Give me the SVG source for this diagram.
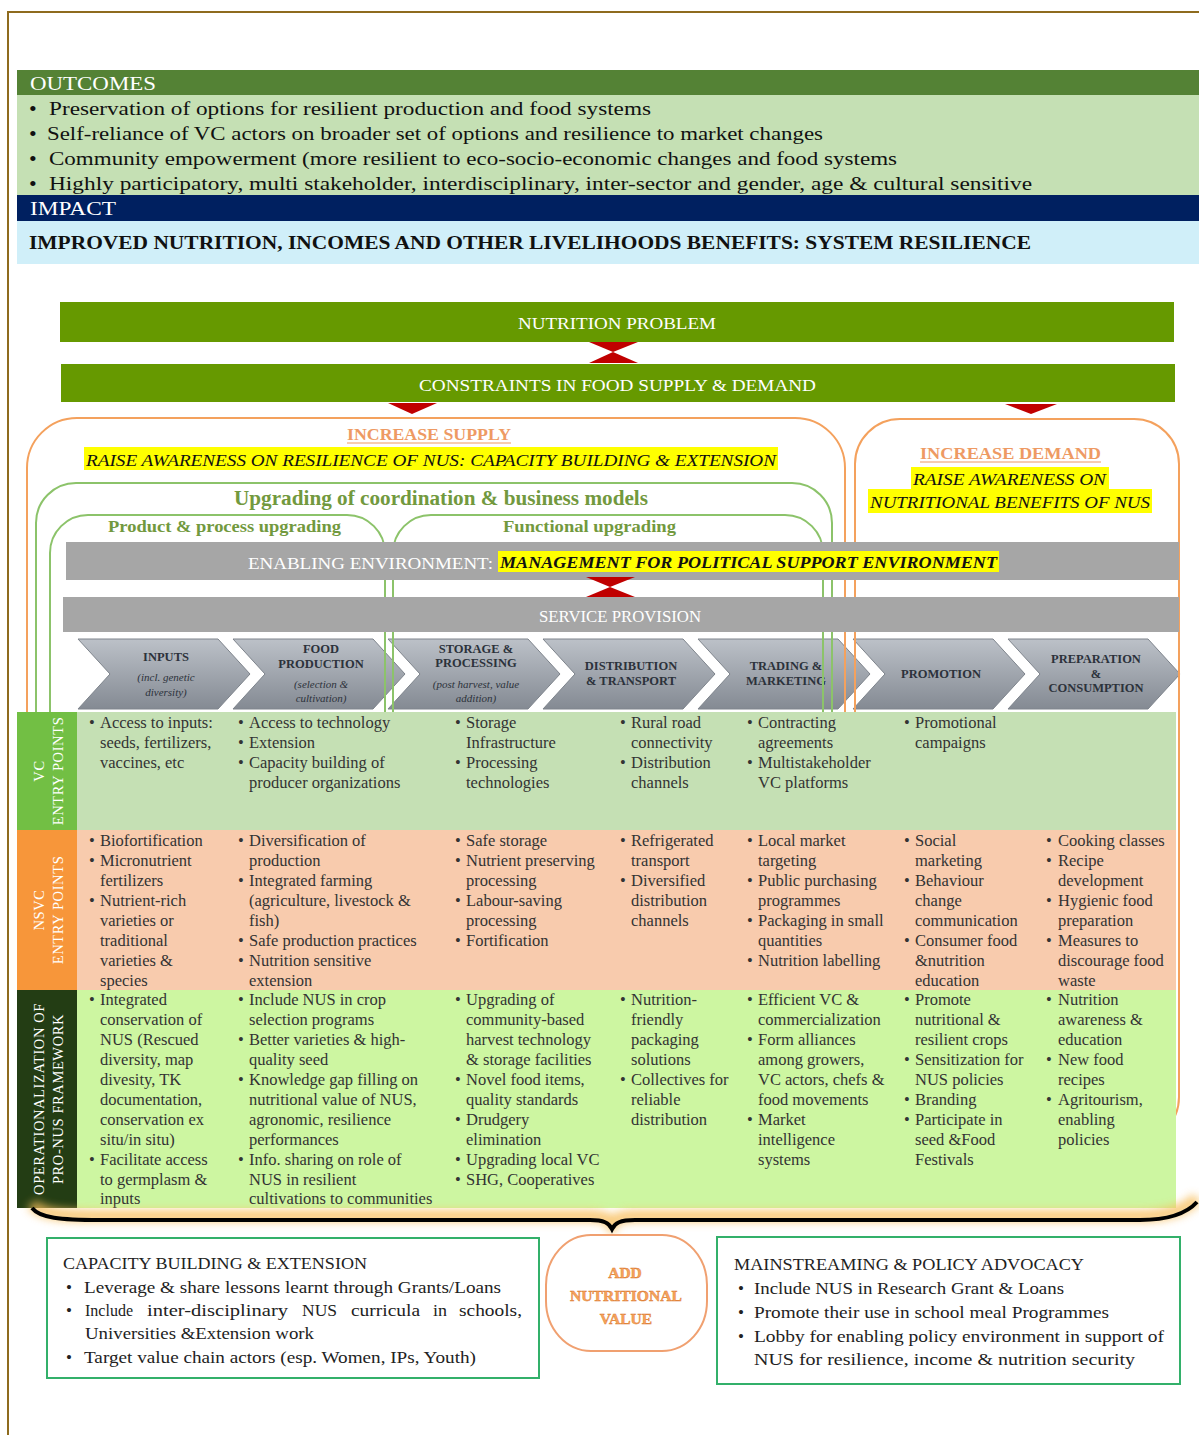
<svg xmlns="http://www.w3.org/2000/svg" width="1199" height="1435" viewBox="0 0 1199 1435">
<defs>
<style>
.sf{font-family:"Liberation Serif","Times New Roman",serif}
.w{fill:#fff}
.tb{font-family:"Liberation Serif","Times New Roman",serif;font-size:16.5px;fill:#333}
.cv{font-family:"Liberation Serif",serif;font-size:12.5px;font-weight:bold;fill:#2C323B;text-anchor:middle}
.ci{font-family:"Liberation Serif",serif;font-size:11px;font-style:italic;fill:#2C323B;text-anchor:middle}
.chev{fill:url(#cg);stroke:#7E848C;stroke-width:1}
.orng{fill:none;stroke:#F4A15D;stroke-width:2}
.grn{fill:none;stroke:#8CC36A;stroke-width:2}
.gh{font-family:"Liberation Serif",serif;font-weight:bold;fill:#72993E}
.hl{fill:#FFFF00}
.it{font-family:"Liberation Serif",serif;font-style:italic;fill:#111}
.red{fill:#C00000}
.lab{font-family:"Liberation Serif",serif;font-size:14.5px;fill:#fff;text-anchor:middle;letter-spacing:0.6px}
.bx{fill:#fff;stroke:#33B06A;stroke-width:2}
.bt{font-family:"Liberation Serif",serif;font-size:17px;fill:#222}
.bul{font-family:"Liberation Serif",serif;font-size:22px;fill:#111}
</style>
<linearGradient id="cg" x1="0" y1="0" x2="0" y2="1">
<stop offset="0" stop-color="#BCC1C8"/>
<stop offset="1" stop-color="#848A93"/>
</linearGradient>
<filter id="blur" x="-5%" y="-200%" width="110%" height="500%">
<feGaussianBlur stdDeviation="4"/>
</filter>
</defs>
<rect width="1199" height="1435" fill="#fff"/>
<!-- frame -->
<path d="M8,1435 V12 H1199" fill="none" stroke="#8E6B1E" stroke-width="2"/>

<!-- outcomes -->
<g id="outcomes">
<rect x="17" y="70" width="1182" height="25" fill="#548235"/>
<text class="sf w" x="30" y="90" font-size="19" textLength="126" lengthAdjust="spacingAndGlyphs">OUTCOMES</text>
<rect x="17" y="95" width="1182" height="100" fill="#C5E0B4"/>
<g class="sf" font-size="19" fill="#111">
<text class="bul" x="29" y="116">•</text><text x="49" y="115" textLength="602" lengthAdjust="spacingAndGlyphs">Preservation of options for resilient production and food systems</text>
<text class="bul" x="29" y="141">•</text><text x="47" y="140" textLength="776" lengthAdjust="spacingAndGlyphs">Self-reliance of VC actors on broader set of options and resilience to market changes</text>
<text class="bul" x="29" y="166">•</text><text x="49" y="165" textLength="848" lengthAdjust="spacingAndGlyphs">Community empowerment (more resilient to eco-socio-economic changes and food systems</text>
<text class="bul" x="29" y="191">•</text><text x="49" y="190" textLength="983" lengthAdjust="spacingAndGlyphs">Highly participatory, multi stakeholder, interdisciplinary, inter-sector and gender, age &amp; cultural sensitive</text>
</g>
</g>
<g id="impact">
<rect x="17" y="195" width="1182" height="26" fill="#002060"/>
<text class="sf w" x="30" y="215" font-size="19" textLength="86" lengthAdjust="spacingAndGlyphs">IMPACT</text>
<rect x="17" y="221" width="1182" height="43" fill="#D0EFF9"/>
<text class="sf" x="29" y="249" font-size="19" font-weight="bold" fill="#111" textLength="1002" lengthAdjust="spacingAndGlyphs">IMPROVED NUTRITION, INCOMES AND OTHER LIVELIHOODS BENEFITS: SYSTEM RESILIENCE</text>
</g>

<!-- top bars -->
<g id="nutrition-problem">
<rect x="60" y="302" width="1114" height="40" fill="#669900"/>
<text class="sf w" x="518" y="329" font-size="17" textLength="198" lengthAdjust="spacingAndGlyphs">NUTRITION PROBLEM</text>
</g>
<g id="constraints">
<rect x="61" y="364" width="1114" height="38" fill="#669900"/>
<text class="sf w" x="419" y="391" font-size="17" textLength="397" lengthAdjust="spacingAndGlyphs">CONSTRAINTS IN FOOD SUPPLY &amp; DEMAND</text>
</g>

<!-- chevrons -->
<g id="chevrons">
<g id="c-inputs"><polygon class="chev" points="78,639 218,639 250,674 218,709 78,709 110,674"/>
<text class="cv" x="166" y="661">INPUTS</text><text class="ci" x="166" y="681">(incl. genetic</text><text class="ci" x="166" y="696">diversity)</text></g>
<g id="c-food"><polygon class="chev" points="233,639 373,639 405,674 373,709 233,709 265,674"/>
<text class="cv" x="321" y="653">FOOD</text><text class="cv" x="321" y="668">PRODUCTION</text><text class="ci" x="321" y="688">(selection &amp;</text><text class="ci" x="321" y="702">cultivation)</text></g>
<g id="c-storage"><polygon class="chev" points="388,639 528,639 560,674 528,709 388,709 420,674"/>
<text class="cv" x="476" y="653">STORAGE &amp;</text><text class="cv" x="476" y="667">PROCESSING</text><text class="ci" x="476" y="688">(post harvest, value</text><text class="ci" x="476" y="702">addition)</text></g>
<g id="c-distribution"><polygon class="chev" points="543,639 683,639 715,674 683,709 543,709 575,674"/>
<text class="cv" x="631" y="670">DISTRIBUTION</text><text class="cv" x="631" y="685">&amp; TRANSPORT</text></g>
<g id="c-trading"><polygon class="chev" points="698,639 838,639 870,674 838,709 698,709 730,674"/>
<text class="cv" x="786" y="670">TRADING &amp;</text><text class="cv" x="786" y="685">MARKETING</text></g>
<g id="c-promotion"><polygon class="chev" points="853,639 993,639 1025,674 993,709 853,709 885,674"/>
<text class="cv" x="941" y="678">PROMOTION</text></g>
<g id="c-preparation"><polygon class="chev" points="1008,639 1148,639 1180,674 1148,709 1008,709 1040,674"/>
<text class="cv" x="1096" y="663">PREPARATION</text><text class="cv" x="1096" y="678">&amp;</text><text class="cv" x="1096" y="692">CONSUMPTION</text></g>
</g>

<!-- outline groups -->
<g id="increase-supply">
<rect class="orng" x="27" y="418" width="818" height="700" rx="50"/>
<text class="sf" x="347" y="440" font-size="16.5" font-weight="bold" fill="#EE9A63" textLength="164" lengthAdjust="spacingAndGlyphs">INCREASE SUPPLY</text>
<line x1="347" y1="443" x2="511" y2="443" stroke="#EE9A63" stroke-width="1"/>
<rect class="hl" x="84" y="447" width="694" height="23"/>
<text class="it" x="86" y="466" font-size="17" textLength="690" lengthAdjust="spacingAndGlyphs">RAISE AWARENESS ON RESILIENCE OF NUS: CAPACITY BUILDING &amp; EXTENSION</text>
</g>
<g id="increase-demand">
<rect class="orng" x="855" y="419" width="324" height="723" rx="45"/>
<text class="sf" x="920" y="459" font-size="16.5" font-weight="bold" fill="#EE9A63" textLength="181" lengthAdjust="spacingAndGlyphs">INCREASE DEMAND</text>
<line x1="920" y1="462" x2="1101" y2="462" stroke="#EE9A63" stroke-width="1"/>
<rect class="hl" x="911" y="467" width="198" height="22"/>
<rect class="hl" x="868" y="489" width="284" height="24"/>
<text class="it" x="913" y="485" font-size="17" textLength="193" lengthAdjust="spacingAndGlyphs">RAISE AWARENESS ON</text>
<text class="it" x="870" y="508" font-size="17" textLength="280" lengthAdjust="spacingAndGlyphs">NUTRITIONAL BENEFITS OF NUS</text>
</g>
<g id="upgrading-coordination">
<rect class="grn" x="36" y="483" width="796" height="600" rx="40"/>
<text class="gh" x="234" y="505" font-size="20" textLength="414" lengthAdjust="spacingAndGlyphs">Upgrading of coordination &amp; business models</text>
</g>
<g id="product-process">
<rect class="grn" x="50" y="515" width="335" height="500" rx="38"/>
<text class="gh" x="108" y="532" font-size="17" textLength="233" lengthAdjust="spacingAndGlyphs">Product &amp; process upgrading</text>
</g>
<g id="functional">
<rect class="grn" x="393" y="515" width="430" height="500" rx="38"/>
<text class="gh" x="503" y="532" font-size="17" textLength="173" lengthAdjust="spacingAndGlyphs">Functional upgrading</text>
</g>

<!-- enabling & service bars -->
<g id="enabling-environment">
<rect x="66" y="542" width="1113" height="38" fill="#A6A6A6"/>
<text class="sf w" x="248" y="569" font-size="17" textLength="245" lengthAdjust="spacingAndGlyphs">ENABLING ENVIRONMENT:</text>
<rect class="hl" x="498" y="551" width="501" height="21"/>
<text class="it" x="500" y="568" font-size="17" font-weight="bold" textLength="497" lengthAdjust="spacingAndGlyphs">MANAGEMENT FOR POLITICAL SUPPORT ENVIRONMENT</text>
</g>
<g id="service-provision">
<rect x="63" y="597" width="1116" height="35" fill="#A6A6A6"/>
<text class="sf w" x="539" y="622" font-size="16" textLength="162" lengthAdjust="spacingAndGlyphs">SERVICE PROVISION</text>
</g>

<!-- connectors -->
<g id="connectors">
<polygon class="red" points="589,342 638,342 613,352"/>
<polygon class="red" points="589,363 638,363 613,352"/>
<polygon class="red" points="388,403 437,403 412,414"/>
<polygon class="red" points="1005,404 1057,404 1031,414"/>
<polygon class="red" points="586,577 635,577 610,587"/>
<polygon class="red" points="586,597 635,597 610,587"/>
</g>

<!-- table rows -->
<g id="vc-row">
<rect x="17" y="712" width="1159" height="118" fill="#C5E0B4"/>
<rect x="17" y="712" width="60" height="118" fill="#72BF44"/>
<text class="lab" transform="translate(44,771) rotate(-90)">VC</text>
<text class="lab" transform="translate(63,771) rotate(-90)">ENTRY POINTS</text>
<text class="tb">
<tspan x="89" y="728">•</tspan><tspan x="100" y="728">Access to inputs:</tspan><tspan x="100" y="748">seeds, fertilizers,</tspan><tspan x="100" y="768">vaccines, etc</tspan>
<tspan x="238" y="728">•</tspan><tspan x="249" y="728">Access to technology</tspan><tspan x="238" y="748">•</tspan><tspan x="249" y="748">Extension</tspan><tspan x="238" y="768">•</tspan><tspan x="249" y="768">Capacity building of</tspan><tspan x="249" y="788">producer organizations</tspan>
<tspan x="455" y="728">•</tspan><tspan x="466" y="728">Storage</tspan><tspan x="466" y="748">Infrastructure</tspan><tspan x="455" y="768">•</tspan><tspan x="466" y="768">Processing</tspan><tspan x="466" y="788">technologies</tspan>
<tspan x="620" y="728">•</tspan><tspan x="631" y="728">Rural road</tspan><tspan x="631" y="748">connectivity</tspan><tspan x="620" y="768">•</tspan><tspan x="631" y="768">Distribution</tspan><tspan x="631" y="788">channels</tspan>
<tspan x="747" y="728">•</tspan><tspan x="758" y="728">Contracting</tspan><tspan x="758" y="748">agreements</tspan><tspan x="747" y="768">•</tspan><tspan x="758" y="768">Multistakeholder</tspan><tspan x="758" y="788">VC platforms</tspan>
<tspan x="904" y="728">•</tspan><tspan x="915" y="728">Promotional</tspan><tspan x="915" y="748">campaigns</tspan>
</text>
</g>
<g id="nsvc-row">
<rect x="17" y="830" width="1159" height="160" fill="#F8CBAD"/>
<rect x="17" y="830" width="60" height="160" fill="#F7963A"/>
<text class="lab" transform="translate(44,910) rotate(-90)">NSVC</text>
<text class="lab" transform="translate(63,910) rotate(-90)">ENTRY POINTS</text>
<text class="tb">
<tspan x="89" y="846">•</tspan><tspan x="100" y="846">Biofortification</tspan><tspan x="89" y="866">•</tspan><tspan x="100" y="866">Micronutrient</tspan><tspan x="100" y="886">fertilizers</tspan><tspan x="89" y="906">•</tspan><tspan x="100" y="906">Nutrient-rich</tspan><tspan x="100" y="926">varieties or</tspan><tspan x="100" y="946">traditional</tspan><tspan x="100" y="966">varieties &amp;</tspan><tspan x="100" y="986">species</tspan>
<tspan x="238" y="846">•</tspan><tspan x="249" y="846">Diversification of</tspan><tspan x="249" y="866">production</tspan><tspan x="238" y="886">•</tspan><tspan x="249" y="886">Integrated farming</tspan><tspan x="249" y="906">(agriculture, livestock &amp;</tspan><tspan x="249" y="926">fish)</tspan><tspan x="238" y="946">•</tspan><tspan x="249" y="946">Safe production practices</tspan><tspan x="238" y="966">•</tspan><tspan x="249" y="966">Nutrition sensitive</tspan><tspan x="249" y="986">extension</tspan>
<tspan x="455" y="846">•</tspan><tspan x="466" y="846">Safe storage</tspan><tspan x="455" y="866">•</tspan><tspan x="466" y="866">Nutrient preserving</tspan><tspan x="466" y="886">processing</tspan><tspan x="455" y="906">•</tspan><tspan x="466" y="906">Labour-saving</tspan><tspan x="466" y="926">processing</tspan><tspan x="455" y="946">•</tspan><tspan x="466" y="946">Fortification</tspan>
<tspan x="620" y="846">•</tspan><tspan x="631" y="846">Refrigerated</tspan><tspan x="631" y="866">transport</tspan><tspan x="620" y="886">•</tspan><tspan x="631" y="886">Diversified</tspan><tspan x="631" y="906">distribution</tspan><tspan x="631" y="926">channels</tspan>
<tspan x="747" y="846">•</tspan><tspan x="758" y="846">Local market</tspan><tspan x="758" y="866">targeting</tspan><tspan x="747" y="886">•</tspan><tspan x="758" y="886">Public purchasing</tspan><tspan x="758" y="906">programmes</tspan><tspan x="747" y="926">•</tspan><tspan x="758" y="926">Packaging in small</tspan><tspan x="758" y="946">quantities</tspan><tspan x="747" y="966">•</tspan><tspan x="758" y="966">Nutrition labelling</tspan>
<tspan x="904" y="846">•</tspan><tspan x="915" y="846">Social</tspan><tspan x="915" y="866">marketing</tspan><tspan x="904" y="886">•</tspan><tspan x="915" y="886">Behaviour</tspan><tspan x="915" y="906">change</tspan><tspan x="915" y="926">communication</tspan><tspan x="904" y="946">•</tspan><tspan x="915" y="946">Consumer food</tspan><tspan x="915" y="966">&amp;nutrition</tspan><tspan x="915" y="986">education</tspan>
<tspan x="1046" y="846">•</tspan><tspan x="1058" y="846">Cooking classes</tspan><tspan x="1046" y="866">•</tspan><tspan x="1058" y="866">Recipe</tspan><tspan x="1058" y="886">development</tspan><tspan x="1046" y="906">•</tspan><tspan x="1058" y="906">Hygienic food</tspan><tspan x="1058" y="926">preparation</tspan><tspan x="1046" y="946">•</tspan><tspan x="1058" y="946">Measures to</tspan><tspan x="1058" y="966">discourage food</tspan><tspan x="1058" y="986">waste</tspan>
</text>
</g>
<g id="operationalization-row">
<rect x="17" y="990" width="1159" height="218" fill="#CDF6A1"/>
<rect x="17" y="990" width="60" height="218" fill="#233D14"/>
<text class="lab" transform="translate(44,1099) rotate(-90)">OPERATIONALIZATION OF</text>
<text class="lab" transform="translate(63,1099) rotate(-90)">PRO-NUS FRAMEWORK</text>
<text class="tb">
<tspan x="89" y="1005">•</tspan><tspan x="100" y="1005">Integrated</tspan><tspan x="100" y="1025">conservation of</tspan><tspan x="100" y="1045">NUS (Rescued</tspan><tspan x="100" y="1065">diversity, map</tspan><tspan x="100" y="1085">divesity, TK</tspan><tspan x="100" y="1105">documentation,</tspan><tspan x="100" y="1125">conservation ex</tspan><tspan x="100" y="1145">situ/in situ)</tspan><tspan x="89" y="1165">•</tspan><tspan x="100" y="1165">Facilitate access</tspan><tspan x="100" y="1185">to germplasm &amp;</tspan><tspan x="100" y="1204">inputs</tspan>
<tspan x="238" y="1005">•</tspan><tspan x="249" y="1005">Include NUS in crop</tspan><tspan x="249" y="1025">selection programs</tspan><tspan x="238" y="1045">•</tspan><tspan x="249" y="1045">Better varieties &amp; high-</tspan><tspan x="249" y="1065">quality seed</tspan><tspan x="238" y="1085">•</tspan><tspan x="249" y="1085">Knowledge gap filling on</tspan><tspan x="249" y="1105">nutritional value of NUS,</tspan><tspan x="249" y="1125">agronomic, resilience</tspan><tspan x="249" y="1145">performances</tspan><tspan x="238" y="1165">•</tspan><tspan x="249" y="1165">Info. sharing on role of</tspan><tspan x="249" y="1185">NUS in resilient</tspan><tspan x="249" y="1204">cultivations to communities</tspan>
<tspan x="455" y="1005">•</tspan><tspan x="466" y="1005">Upgrading of</tspan><tspan x="466" y="1025">community-based</tspan><tspan x="466" y="1045">harvest technology</tspan><tspan x="466" y="1065">&amp; storage facilities</tspan><tspan x="455" y="1085">•</tspan><tspan x="466" y="1085">Novel food items,</tspan><tspan x="466" y="1105">quality standards</tspan><tspan x="455" y="1125">•</tspan><tspan x="466" y="1125">Drudgery</tspan><tspan x="466" y="1145">elimination</tspan><tspan x="455" y="1165">•</tspan><tspan x="466" y="1165">Upgrading local VC</tspan><tspan x="455" y="1185">•</tspan><tspan x="466" y="1185">SHG, Cooperatives</tspan>
<tspan x="620" y="1005">•</tspan><tspan x="631" y="1005">Nutrition-</tspan><tspan x="631" y="1025">friendly</tspan><tspan x="631" y="1045">packaging</tspan><tspan x="631" y="1065">solutions</tspan><tspan x="620" y="1085">•</tspan><tspan x="631" y="1085">Collectives for</tspan><tspan x="631" y="1105">reliable</tspan><tspan x="631" y="1125">distribution</tspan>
<tspan x="747" y="1005">•</tspan><tspan x="758" y="1005">Efficient VC &amp;</tspan><tspan x="758" y="1025">commercialization</tspan><tspan x="747" y="1045">•</tspan><tspan x="758" y="1045">Form alliances</tspan><tspan x="758" y="1065">among growers,</tspan><tspan x="758" y="1085">VC actors, chefs &amp;</tspan><tspan x="758" y="1105">food movements</tspan><tspan x="747" y="1125">•</tspan><tspan x="758" y="1125">Market</tspan><tspan x="758" y="1145">intelligence</tspan><tspan x="758" y="1165">systems</tspan>
<tspan x="904" y="1005">•</tspan><tspan x="915" y="1005">Promote</tspan><tspan x="915" y="1025">nutritional &amp;</tspan><tspan x="915" y="1045">resilient crops</tspan><tspan x="904" y="1065">•</tspan><tspan x="915" y="1065">Sensitization for</tspan><tspan x="915" y="1085">NUS policies</tspan><tspan x="904" y="1105">•</tspan><tspan x="915" y="1105">Branding</tspan><tspan x="904" y="1125">•</tspan><tspan x="915" y="1125">Participate in</tspan><tspan x="915" y="1145">seed &amp;Food</tspan><tspan x="915" y="1165">Festivals</tspan>
<tspan x="1046" y="1005">•</tspan><tspan x="1058" y="1005">Nutrition</tspan><tspan x="1058" y="1025">awareness &amp;</tspan><tspan x="1058" y="1045">education</tspan><tspan x="1046" y="1065">•</tspan><tspan x="1058" y="1065">New food</tspan><tspan x="1058" y="1085">recipes</tspan><tspan x="1046" y="1105">•</tspan><tspan x="1058" y="1105">Agritourism,</tspan><tspan x="1058" y="1125">enabling</tspan><tspan x="1058" y="1145">policies</tspan>
</text>
</g>

<!-- brace -->
<g id="brace">
<path d="M32,1204 C40,1214 60,1216 100,1216 L590,1216 C604,1216 609,1219 612,1224 C615,1219 620,1216 635,1216 L1140,1216 C1172,1216 1188,1208 1197,1198" fill="none" stroke="#F8BE5C" stroke-width="12" filter="url(#blur)" opacity="0.8"/>
<path d="M32,1208 C40,1218 60,1220 100,1220 L590,1220 C604,1220 609,1223 612,1229 C615,1223 620,1220 635,1220 L1140,1220 C1172,1220 1188,1212 1197,1202" fill="none" stroke="#000" stroke-width="4"/>
</g>

<!-- bottom boxes -->
<g id="capacity-building">
<rect class="bx" x="47" y="1238" width="492" height="140"/>
<text class="bt" x="63" y="1269" textLength="304" lengthAdjust="spacingAndGlyphs">CAPACITY BUILDING &amp; EXTENSION</text>
<text class="bt" x="66" y="1293">•</text><text class="bt" x="84" y="1293" textLength="417" lengthAdjust="spacingAndGlyphs">Leverage &amp; share lessons learnt through Grants/Loans</text>
<text class="bt" x="66" y="1316">•</text>
<text class="bt" x="85" y="1316" textLength="48" lengthAdjust="spacingAndGlyphs">Include</text>
<text class="bt" x="147" y="1316" textLength="141" lengthAdjust="spacingAndGlyphs">inter-disciplinary</text>
<text class="bt" x="302" y="1316" textLength="35" lengthAdjust="spacingAndGlyphs">NUS</text>
<text class="bt" x="351" y="1316" textLength="69" lengthAdjust="spacingAndGlyphs">curricula</text>
<text class="bt" x="433" y="1316" textLength="14" lengthAdjust="spacingAndGlyphs">in</text>
<text class="bt" x="459" y="1316" textLength="63" lengthAdjust="spacingAndGlyphs">schools,</text>
<text class="bt" x="85" y="1339" textLength="229" lengthAdjust="spacingAndGlyphs">Universities &amp;Extension work</text>
<text class="bt" x="66" y="1363">•</text><text class="bt" x="84" y="1363" textLength="392" lengthAdjust="spacingAndGlyphs">Target value chain actors (esp. Women, IPs, Youth)</text>
</g>
<g id="add-nutritional-value">
<rect x="546" y="1235" width="161" height="116" rx="45" ry="50" fill="#fff" stroke="#F0A070" stroke-width="2"/>
<g class="sf" font-size="15.5" font-weight="bold" fill="#F7A35C" stroke="#D9782E" stroke-width="0.4" text-anchor="middle">
<text x="625" y="1278">ADD</text>
<text x="626" y="1301" textLength="112" lengthAdjust="spacingAndGlyphs">NUTRITIONAL</text>
<text x="626" y="1324">VALUE</text>
</g>
</g>
<g id="mainstreaming">
<rect class="bx" x="717" y="1237" width="463" height="147"/>
<text class="bt" x="734" y="1270" textLength="350" lengthAdjust="spacingAndGlyphs">MAINSTREAMING &amp; POLICY ADVOCACY</text>
<text class="bt" x="738" y="1294">•</text><text class="bt" x="754" y="1294" textLength="310" lengthAdjust="spacingAndGlyphs">Include NUS in Research Grant &amp; Loans</text>
<text class="bt" x="738" y="1318">•</text><text class="bt" x="754" y="1318" textLength="355" lengthAdjust="spacingAndGlyphs">Promote their use in school meal Programmes</text>
<text class="bt" x="738" y="1342">•</text><text class="bt" x="754" y="1342" textLength="410" lengthAdjust="spacingAndGlyphs">Lobby for enabling policy environment in support of</text>
<text class="bt" x="754" y="1365" textLength="381" lengthAdjust="spacingAndGlyphs">NUS for resilience, income &amp; nutrition security</text>
</g>
</svg>
